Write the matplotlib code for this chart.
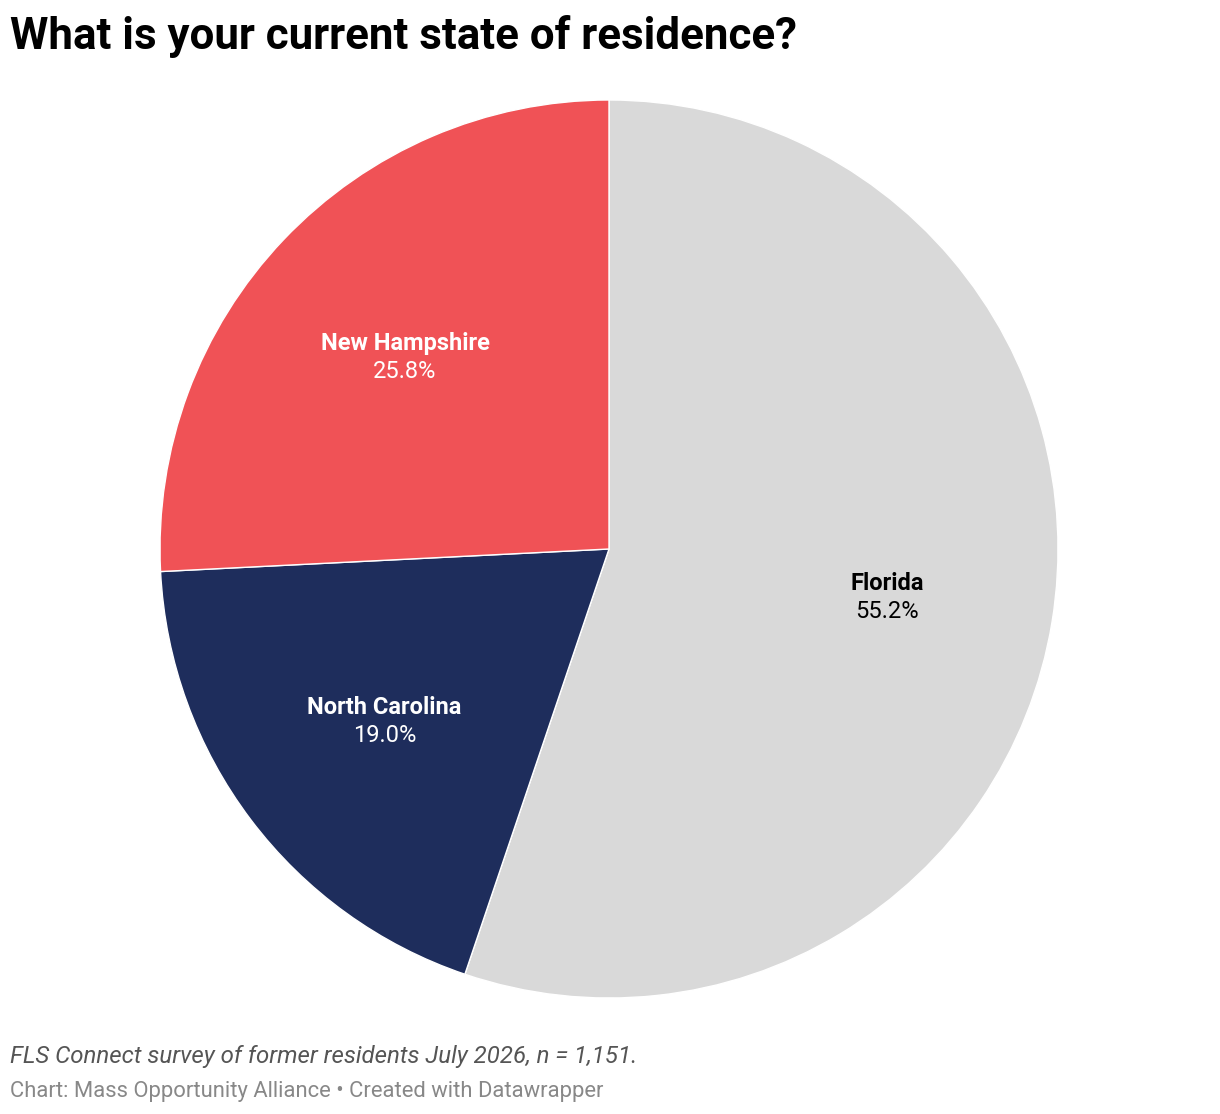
import matplotlib
matplotlib.use("Agg")
import matplotlib.pyplot as plt
import numpy as np

categories = ["Florida", "North Carolina", "New Hampshire"]
values = [55.2, 19.0, 25.8]
colors = ["#d9d9d9", "#1e2d5c", "#f05256"]
label_colors = ["#000000", "#ffffff", "#ffffff"]

title = "What is your current state of residence?"
note = "FLS Connect survey of former residents July 2026, n = 1,151."
credit = "Chart: Mass Opportunity Alliance \u2022 Created with Datawrapper"

plt.rcParams['font.family'] = ['Roboto', 'DejaVu Sans']

W, H = 1220, 1114
fig = plt.figure(figsize=(W / 100, H / 100), dpi=100)
fig.patch.set_facecolor("white")

cx, cy, r = 609, 549, 449
ax = fig.add_axes([(cx - r) / W, (H - cy - r) / H, 2 * r / W, 2 * r / H])
wedges, _ = ax.pie(values, colors=colors, startangle=90, counterclock=False,
                   radius=1, wedgeprops=dict(edgecolor="white", linewidth=1))
ax.set_xlim(-1, 1)
ax.set_ylim(-1, 1)
ax.set_aspect("equal")
ax.axis("off")

off = 14 / r
shift = 2.5 / r
for w, name, val, lc in zip(wedges, categories, values, label_colors):
    ang = np.deg2rad((w.theta1 + w.theta2) / 2)
    x, y = 0.627 * np.cos(ang), 0.627 * np.sin(ang) - shift
    ax.text(x, y + off, name, ha="center", va="center", fontsize=17,
            fontweight="bold", color=lc)
    ax.text(x, y - off, f"{val:.1f}%", ha="center", va="center", fontsize=17,
            color=lc)

fig.text(10 / W, 1 - 37 / H, title, ha="left", va="center", fontsize=31.6,
         fontweight="bold", color="#000000")
fig.text(10 / W, 1 - 1056 / H, note, ha="left", va="center", fontsize=17.3,
         fontstyle="italic", color="#555555")
fig.text(10 / W, 1 - 1092 / H, credit, ha="left", va="center", fontsize=15.8,
         color="#888888")

fig.savefig("out.png", dpi=100, facecolor="white")
